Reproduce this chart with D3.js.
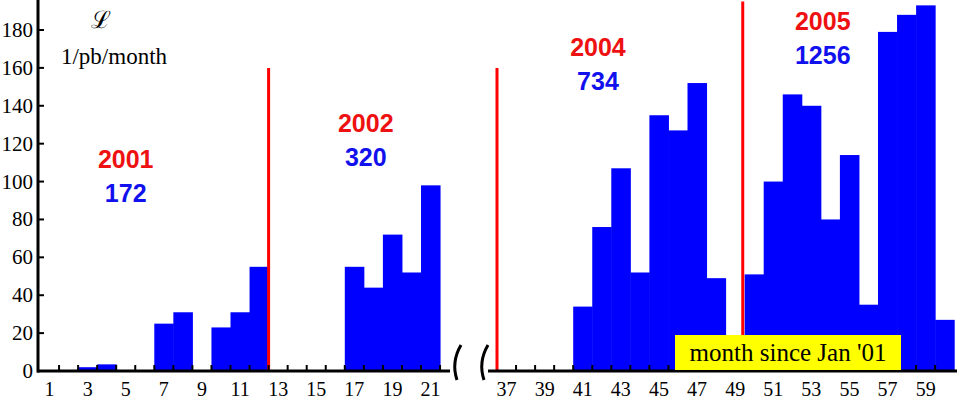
<!DOCTYPE html>
<html><head><meta charset="utf-8">
<script src="https://cdn.jsdelivr.net/npm/d3@7"></script>
<style>body{margin:0;background:#fff}</style>
</head><body><div id="chart"></div>
<script>
// months and luminosity per month (1/pb/month)
const months1 = d3.range(1, 22);
const values1 = [0,0,2,3.5,0,0,25,31,0,23,31,55,0,0,0,0,55,44,72,52,98];
const months2 = d3.range(37, 61);
const values2 = [0,0,0,0,34,76,107,52,135,127,152,49,0,51,100,146,140,80,114,35,179,188,193,27];
const yTicks = [0,20,40,60,80,100,120,140,160,180];
const xTicks1 = d3.range(1, 22, 2);
const xTicks2 = d3.range(37, 60, 2);
// year boundaries: [month edge, height]
const yearLines = [[12,160],[36,160],[48.9,195]];
const yearLabels = [
  {year:"2001", lumi:"172", m:4.5, yv:112},
  {year:"2002", lumi:"320", m:17.1, yv:131},
  {year:"2004", lumi:"734", m:41.3, yv:171},
  {year:"2005", lumi:"1256", m:53.1, yv:185}
];

const W = 957, H = 405;
const svg = d3.select("#chart").append("svg").attr("width", W).attr("height", H);
const bw = 19.05;
const x1 = d3.scaleLinear().domain([0, 22]).range([40, 40 + 22 * bw]);
const x2 = d3.scaleLinear().domain([36, 60]).range([497, 497 + 24 * bw]);
const y = d3.scaleLinear().domain([0, 180]).range([371, 30]);
const xOf = m => m <= 22 ? x1(m) : x2(m);

// bars
const bars = months1.map((m, i) => ({m, v: values1[i]}))
  .concat(months2.map((m, i) => ({m, v: values2[i]})))
  .filter(d => d.v > 0);
svg.append("g").selectAll("rect").data(bars).join("rect")
  .attr("x", d => xOf(d.m - 1))
  .attr("width", d => xOf(d.m) - xOf(d.m - 1) + 0.5)
  .attr("y", d => y(d.v))
  .attr("height", d => y(0) - y(d.v))
  .attr("fill", "#0000ff");

// red year lines
svg.append("g").selectAll("line").data(yearLines).join("line")
  .attr("x1", d => xOf(d[0])).attr("x2", d => xOf(d[0]))
  .attr("y1", y(0)).attr("y2", d => y(d[1]))
  .attr("stroke", "#ff0000").attr("stroke-width", 3);

// axes
const ax = svg.append("g").attr("stroke", "#000").attr("stroke-width", 3);
ax.append("line").attr("x1", 38).attr("x2", 38).attr("y1", 0).attr("y2", y(0) + 1.5);
ax.append("line").attr("x1", 37).attr("x2", 450).attr("y1", y(0)).attr("y2", y(0));
ax.append("line").attr("x1", 488).attr("x2", 957).attr("y1", y(0)).attr("y2", y(0));
const tk = svg.append("g").attr("stroke", "#000").attr("stroke-width", 2);
tk.selectAll(".t1").data(d3.range(1, 22)).join("line")
  .attr("x1", d => x1(d)).attr("x2", d => x1(d)).attr("y1", y(0)).attr("y2", y(0) - 6);
tk.selectAll(".t2").data(d3.range(37, 60)).join("line")
  .attr("x1", d => x2(d)).attr("x2", d => x2(d)).attr("y1", y(0)).attr("y2", y(0) - 6);
tk.selectAll(".ty").data(yTicks).join("line")
  .attr("x1", 38).attr("x2", 44).attr("y1", d => y(d)).attr("y2", d => y(d));

// axis break marks
svg.append("g").selectAll("path").data([457, 484]).join("path")
  .attr("d", d => `M${d + 4},345 Q${d - 6},362 ${d},380`)
  .attr("fill", "none").attr("stroke", "#000").attr("stroke-width", 3);

const serif = "Liberation Serif, Times New Roman, serif";
svg.append("g").selectAll("text").data(yTicks).join("text")
  .attr("x", 33).attr("y", d => y(d) + 7).attr("text-anchor", "end")
  .attr("font-family", serif).attr("font-size", 21).text(d => d);
const xl = svg.append("g").attr("font-family", serif).attr("font-size", 20).attr("text-anchor", "middle");
xl.selectAll(".a").data(xTicks1).join("text")
  .attr("x", d => x1(d - 0.5)).attr("y", 396).text(d => d);
xl.selectAll(".b").data(xTicks2).join("text")
  .attr("x", d => x2(d - 0.5)).attr("y", 396).text(d => d);

// y title
svg.append("text").attr("x", 101).attr("y", 28).attr("text-anchor", "middle")
  .attr("font-family", serif).attr("font-size", 24).text("ℒ");
svg.append("text").attr("x", 114).attr("y", 64).attr("text-anchor", "middle")
  .attr("font-family", serif).attr("font-size", 23).text("1/pb/month");

// year annotations
const ya = svg.append("g").attr("font-family", "Liberation Sans, Arial, sans-serif")
  .attr("font-weight", "bold").attr("font-size", 25).attr("text-anchor", "middle");
ya.selectAll(".yr").data(yearLabels).join("text")
  .attr("x", d => xOf(d.m)).attr("y", d => y(d.yv) + 9).attr("fill", "#ee1111").text(d => d.year);
ya.selectAll(".lu").data(yearLabels).join("text")
  .attr("x", d => xOf(d.m)).attr("y", d => y(d.yv) + 43).attr("fill", "#1111ee").text(d => d.lumi);

// x title box
svg.append("rect").attr("x", 675).attr("y", 335).attr("width", 226).attr("height", 35).attr("fill", "#ffff00");
svg.append("text").attr("x", 788).attr("y", 361).attr("text-anchor", "middle")
  .attr("font-family", serif).attr("font-size", 25).text("month since Jan '01");
</script>
</body></html>
